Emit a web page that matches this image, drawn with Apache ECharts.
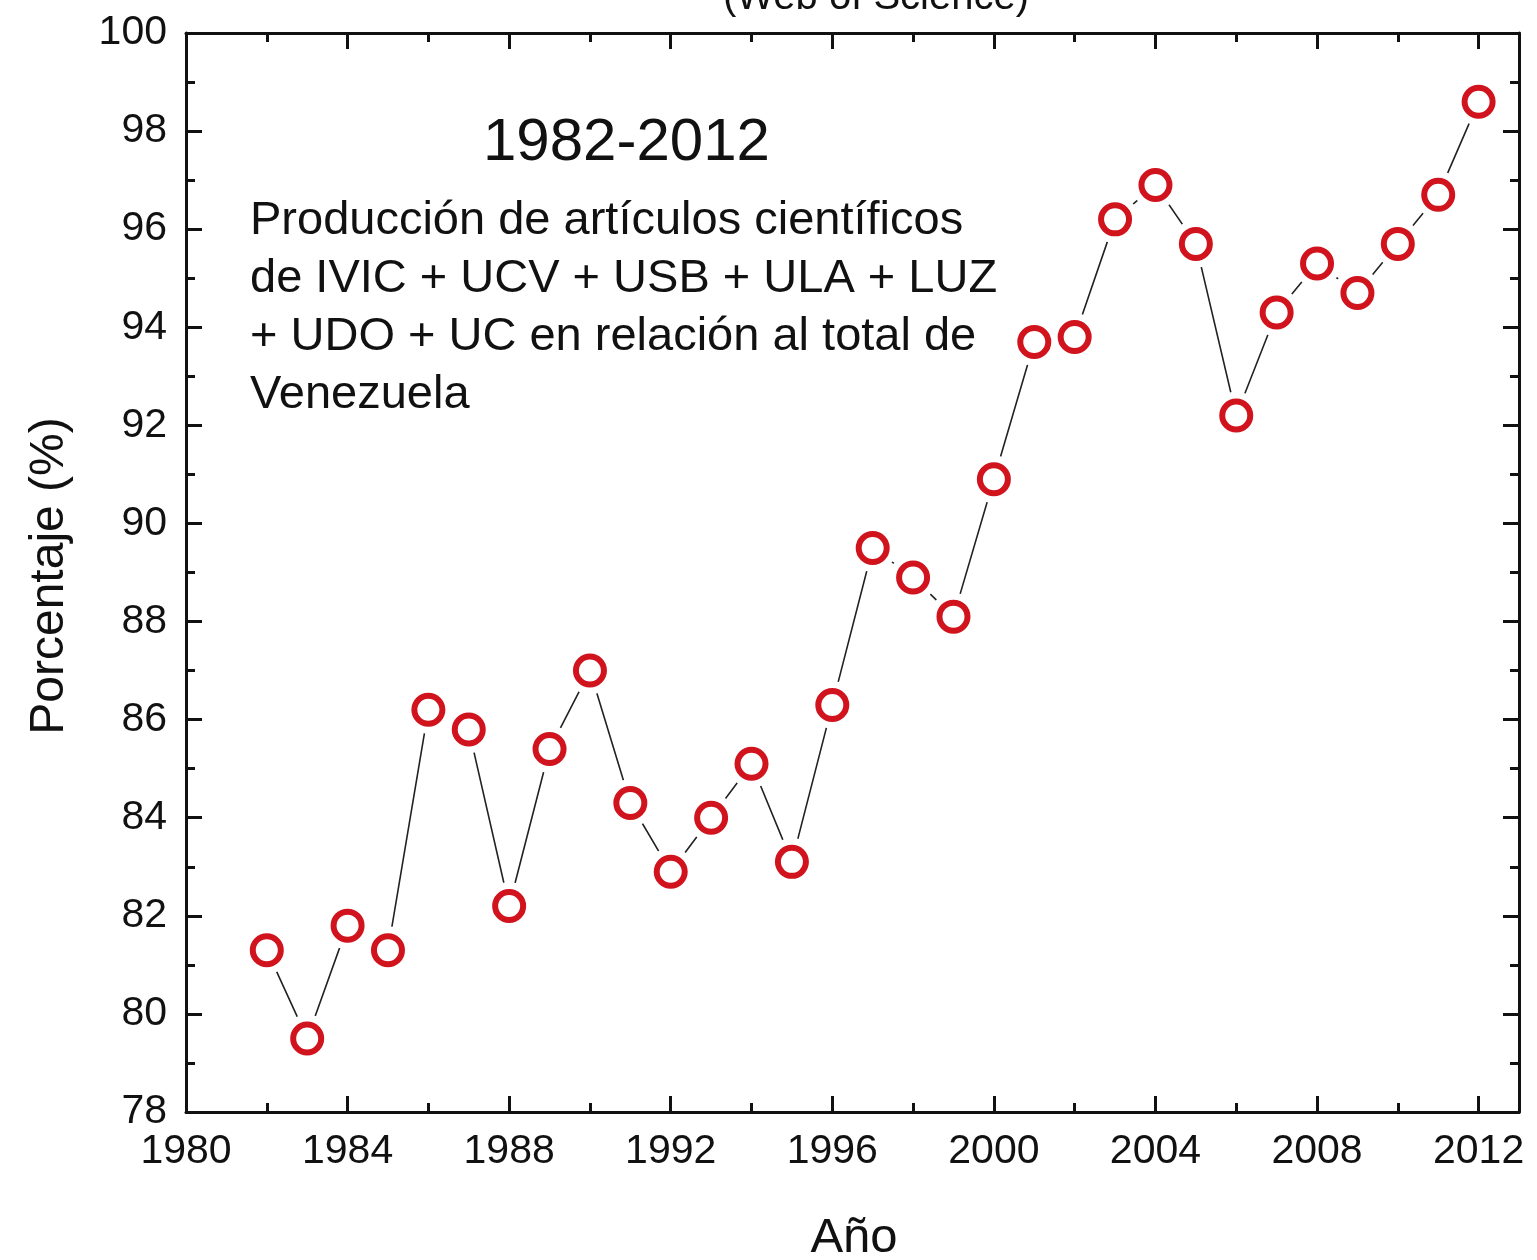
<!DOCTYPE html>
<html>
<head>
<meta charset="utf-8">
<script src="https://cdn.jsdelivr.net/npm/echarts@6/dist/echarts.min.js"></script>
<style>
html,body{margin:0;padding:0;background:#fff;}
#chart{width:1537px;height:1260px;}
</style>
</head>
<body>
<div id="chart"></div>
<script>
const years = [1982,1983,1984,1985,1986,1987,1988,1989,1990,1991,1992,1993,1994,1995,1996,1997,1998,1999,2000,2001,2002,2003,2004,2005,2006,2007,2008,2009,2010,2011,2012];
const percentages = [81.3,79.5,81.8,81.3,86.2,85.8,82.2,85.4,87.0,84.3,82.9,84.0,85.1,83.1,86.3,89.5,88.9,88.1,90.9,93.7,93.8,96.2,96.9,95.7,92.2,94.3,95.3,94.7,95.7,96.7,98.6];
const xMajorTicks = [1980,1984,1988,1992,1996,2000,2004,2008,2012];
const xMinorTicks = [1982,1986,1990,1994,1998,2002,2006,2010];
const titleText = '(Web of Science)';
const periodText = '1982-2012';
const noteLines = ['Producción de artículos científicos','de IVIC + UCV + USB + ULA + LUZ','+ UDO + UC en relación al total de','Venezuela'];
const xName = 'Año';
const yName = 'Porcentaje (%)';

const pts = years.map((y,i)=>[y, percentages[i]]);
const FONT = '"Liberation Sans", Arial, sans-serif';
const AX = '#111';
const plain = v => String(v);

function xAx(position, ticks, len, showLine, showLabel) {
  return {
    type:'value', position, min:1980, max:2013, gridIndex:0,
    axisLine:{show:showLine, lineStyle:{color:AX, width:3}},
    axisTick:{show:true, inside:true, length:len, customValues:ticks, lineStyle:{color:AX, width:3}},
    minorTick:{show:false},
    axisLabel:{show:showLabel, customValues:xMajorTicks, formatter:plain, color:'#111', fontSize:41, fontFamily:FONT, margin:19},
    splitLine:{show:false}
  };
}
function yAx(position, showLabel) {
  return {
    type:'value', position, min:78, max:100, interval:2,
    axisLine:{show:true, lineStyle:{color:AX, width:3}},
    axisTick:{show:true, inside:true, length:16, lineStyle:{color:AX, width:3}},
    minorTick:{show:true, splitNumber:2, length:9, lineStyle:{color:AX, width:3}},
    axisLabel:{show:showLabel, formatter:plain, color:'#111', fontSize:41, fontFamily:FONT, margin:19},
    splitLine:{show:false}
  };
}

const chart = echarts.init(document.getElementById('chart'));
chart.setOption({
  backgroundColor:'#fff',
  animation:false,
  grid:{left:186, top:33, right:18, bottom:148, containLabel:false},
  xAxis:[
    xAx('bottom', xMajorTicks, 16, true, true),
    xAx('bottom', xMinorTicks, 9, false, false),
    xAx('top', xMajorTicks, 16, true, false),
    xAx('top', xMinorTicks, 9, false, false)
  ],
  yAxis:[ yAx('left', true), yAx('right', false) ],
  graphic:[
    {type:'text', x:876, y:-22, style:{text:titleText, font:'40px '+FONT, fill:'#111', align:'center', verticalAlign:'top'}},
    {type:'text', x:483, y:143, style:{text:periodText, font:'60px '+FONT, fill:'#111', verticalAlign:'middle'}},
    {type:'text', x:250, y:192, style:{text:noteLines.join('\n'), font:'47px '+FONT, lineHeight:58, fill:'#111', verticalAlign:'top'}},
    {type:'text', x:854, y:1238, style:{text:xName, font:'49px '+FONT, fill:'#111', align:'center', verticalAlign:'middle'}},
    {type:'text', x:50, y:576, rotation:Math.PI/2,
      style:{text:yName, font:'48px '+FONT, fill:'#111', align:'center', verticalAlign:'middle'}}
  ],
  series:[
    {type:'line', xAxisIndex:0, yAxisIndex:0, data:pts, symbol:'none', lineStyle:{color:'#222', width:1.6}, z:2},
    {type:'scatter', xAxisIndex:0, yAxisIndex:0, data:pts, symbol:'circle', symbolSize:48, itemStyle:{color:'#fff', opacity:1}, z:3, silent:true},
    {type:'scatter', xAxisIndex:0, yAxisIndex:0, data:pts, symbol:'circle', symbolSize:28, itemStyle:{color:'#fff', borderColor:'#d0131c', borderWidth:6, opacity:1}, z:4}
  ]
});
</script>
</body>
</html>
